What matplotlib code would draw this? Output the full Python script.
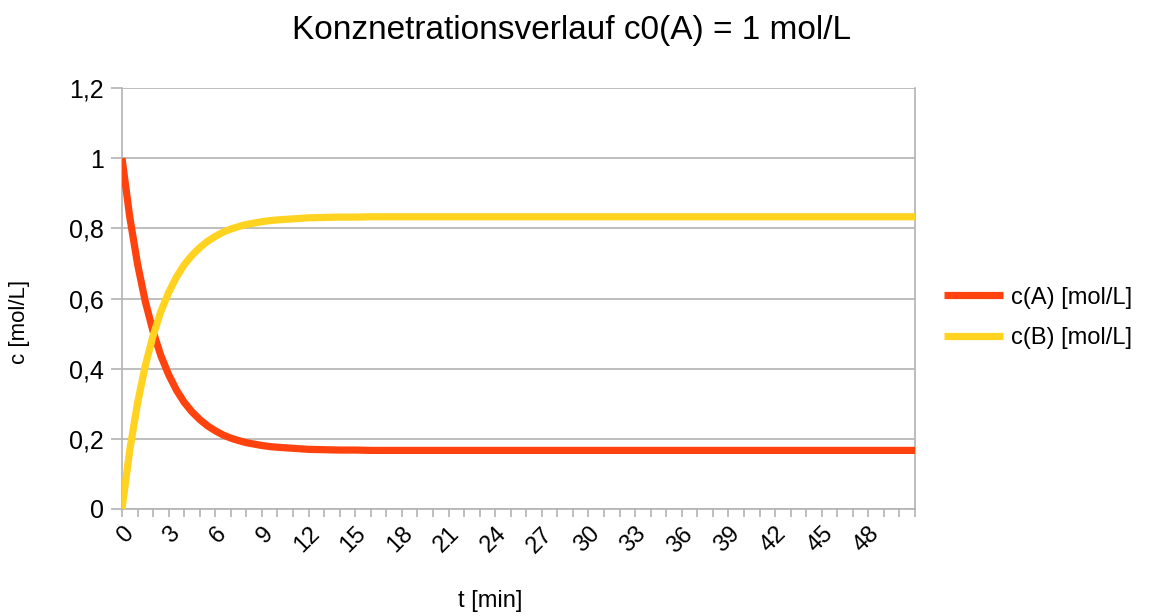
import matplotlib
matplotlib.use("Agg")
import matplotlib.pyplot as plt
from matplotlib.ticker import FixedLocator, MultipleLocator

plt.rcParams['font.family'] = ['Liberation Sans', 'DejaVu Sans']

title = "Konznetrationsverlauf c0(A) = 1 mol/L"
x_label = "t [min]"
y_label = "c [mol/L]"
series_names = ["c(A) [mol/L]", "c(B) [mol/L]"]
colors = ["#FF420E", "#FFD320"]

t = [0, 0.5, 1, 1.5, 2, 2.5, 3, 3.5, 4, 4.5, 5, 5.5, 6, 6.5, 7, 7.5, 8, 8.5,
     9, 9.5, 10, 11, 12, 13, 14, 15, 16, 18, 20, 25, 30, 35, 40, 45, 50, 51]
c_A = [1.000, 0.832, 0.698, 0.591, 0.506, 0.437, 0.383, 0.339, 0.304, 0.277,
       0.255, 0.237, 0.223, 0.211, 0.202, 0.195, 0.189, 0.185, 0.181, 0.178,
       0.176, 0.173, 0.170, 0.169, 0.168, 0.168, 0.167, 0.167, 0.167, 0.167,
       0.167, 0.167, 0.167, 0.167, 0.167, 0.167]
c_B = [0.000, 0.168, 0.302, 0.409, 0.494, 0.563, 0.617, 0.661, 0.696, 0.723,
       0.745, 0.763, 0.777, 0.789, 0.798, 0.805, 0.811, 0.815, 0.819, 0.822,
       0.824, 0.827, 0.830, 0.831, 0.832, 0.832, 0.833, 0.833, 0.833, 0.833,
       0.833, 0.833, 0.833, 0.833, 0.833, 0.833]
x_tick_labels = [str(v) for v in range(0, 49, 3)]
y_ticks = [0, 0.2, 0.4, 0.6, 0.8, 1.0, 1.2]
y_tick_labels = ["0", "0,2", "0,4", "0,6", "0,8", "1", "1,2"]

W, H = 1157, 616
fig = plt.figure(figsize=(W / 100, H / 100), dpi=100)
ax = fig.add_axes([122 / W, 1 - 509 / H, (915 - 122) / W, (509 - 88) / H])

grid_col = "#b3b3b3"
for name, col, ys in zip(series_names, colors, [c_A, c_B]):
    ax.plot(t, ys, color=col, lw=5.2, label=name, solid_capstyle="butt",
            solid_joinstyle="miter", zorder=3)

ax.set_xlim(0, 51)
ax.set_ylim(0, 1.2)
ax.xaxis.set_major_locator(FixedLocator([float(v) for v in x_tick_labels]))
ax.set_xticklabels(x_tick_labels, rotation=45, ha="right", va="top",
                   rotation_mode="anchor", fontsize=17)
ax.xaxis.set_minor_locator(MultipleLocator(1))
ax.set_yticks(y_ticks)
ax.set_yticklabels(y_tick_labels, fontsize=18)
ax.tick_params(axis="x", which="both", length=6, width=1.2, color=grid_col, pad=4)
ax.tick_params(axis="y", length=8, width=1.2, color=grid_col, pad=5)
ax.grid(axis="y", color=grid_col, lw=1.2, zorder=0)
ax.spines["top"].set_visible(False)
for s in ["left", "right", "bottom"]:
    ax.spines[s].set_color(grid_col)
    ax.spines[s].set_linewidth(1.2)

fig.text(571 / W, 1 - 30 / H, title, ha="center", va="center", fontsize=24)
fig.text(490 / W, 1 - 601 / H, x_label, ha="center", va="center", fontsize=17)
fig.text(20 / W, 1 - 322 / H, y_label, ha="center", va="center",
         rotation=90, fontsize=16)

leg = fig.legend(loc="center left", bbox_to_anchor=(925 / W, 1 - 318 / H),
                 frameon=False, fontsize=17, handlelength=2.5,
                 handletextpad=0.35, labelspacing=0.8, borderpad=0.3)

fig.savefig("out.png", dpi=100)
